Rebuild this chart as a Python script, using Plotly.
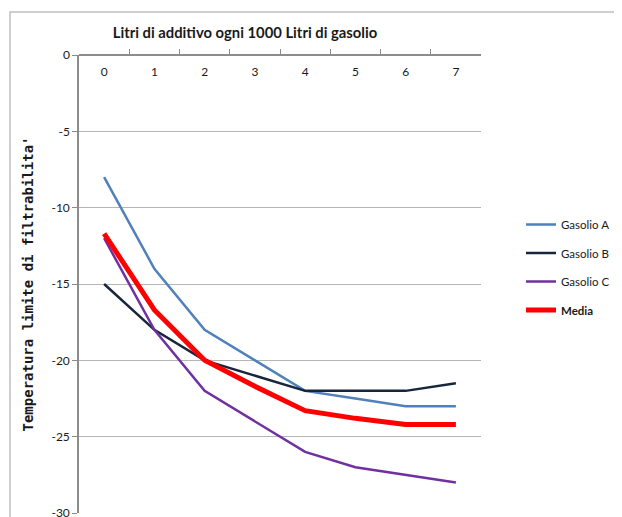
import plotly.graph_objects as go

doses = ["0", "1", "2", "3", "4", "5", "6", "7"]
gasolio_a = [-8, -14, -18, -20, -22, -22.5, -23, -23]
gasolio_b = [-15, -18, -20, -21, -22, -22, -22, -21.5]
gasolio_c = [-12, -18, -22, -24, -26, -27, -27.5, -28]
media = [-11.7, -16.7, -20, -21.7, -23.3, -23.8, -24.2, -24.2]
y_ticks = [0, -5, -10, -15, -20, -25, -30]
y_tick_labels = ["0", "-5", "-10", "-15", "-20", "-25", "-30"]

series = [
    ("Gasolio A", gasolio_a, "#4F81BD", 2.5),
    ("Gasolio B", gasolio_b, "#17263C", 2.5),
    ("Gasolio C", gasolio_c, "#7030A0", 2.5),
    ("<b>Media</b>", media, "#FF0000", 5),
]

fig = go.Figure()
for i, (name, vals, color, w) in enumerate(series):
    fig.add_trace(go.Scatter(
        x=doses, y=vals, mode="lines", name=name,
        line=dict(color=color, width=w),
        legendgroup=f"g{i}",
    ))

OFF = 8  # page body margin
W, H = 700, 517
# plot area in screen px: x 79..481, y 55..513
L, T = 79 - OFF, 55 - OFF
R, B = W - (481 - OFF), H - (513 - OFF)
pw, ph = W - L - R, H - T - B

fig.update_layout(
    width=W, height=H,
    margin=dict(l=L, r=R, t=T, b=B, autoexpand=False),
    paper_bgcolor="white", plot_bgcolor="white",
    font=dict(family="Lato", size=12, color="#1a1a1a"),
    title=dict(
        text="<b>Litri di additivo ogni 1000 Litri di gasolio</b>",
        x=(245 - OFF) / W, xanchor="center",
        y=1 - (33 - OFF) / H, yanchor="middle",
        font=dict(family="Lato", size=14.8, color="#1a1a1a"),
    ),
    showlegend=True,
    legend=dict(
        x=(521 - 79) / pw, xanchor="left", y=(513 - 210) / ph, yanchor="top",
        font=dict(family="Lato", size=11.5, color="#1a1a1a"),
        tracegroupgap=9.5, itemwidth=30,
        bgcolor="rgba(0,0,0,0)",
    ),
    xaxis=dict(
        type="category", side="bottom", anchor="free", position=1,
        range=[-0.5, 7.5],
        showgrid=False, showline=True, linecolor="#8c8c8c", linewidth=1.5,
        ticks="inside", ticklen=5, tickcolor="#8c8c8c", tickson="boundaries",
        ticklabelstandoff=6,
        tickfont=dict(family="Lato", size=12, color="#1a1a1a"),
        zeroline=False, automargin=False,
    ),
    yaxis=dict(
        range=[-30, 0], tickmode="array", tickvals=y_ticks, ticktext=y_tick_labels,
        showgrid=True, gridcolor="#b5b5b5", gridwidth=1,
        showline=True, linecolor="#8c8c8c", linewidth=1.5,
        ticks="outside", ticklen=5, tickcolor="#8c8c8c",
        zeroline=False, automargin=False,
        tickfont=dict(family="Lato", size=12, color="#1a1a1a"),
        title=dict(
            text="<b>Temperatura limite di filtrabilita'</b>",
            font=dict(family="DejaVu Sans Mono", size=14, color="#1a1a1a"),
            standoff=15,
        ),
    ),
    shapes=[dict(
        type="rect", xref="paper", yref="paper",
        x0=(10 - 79) / pw, x1=(640 - 79) / pw,
        y0=-0.1, y1=1 + (55 - 12) / ph,
        line=dict(color="#bfbfbf", width=1.5),
        fillcolor="rgba(0,0,0,0)", layer="below",
    )],
)

fig.write_html("out.html")
